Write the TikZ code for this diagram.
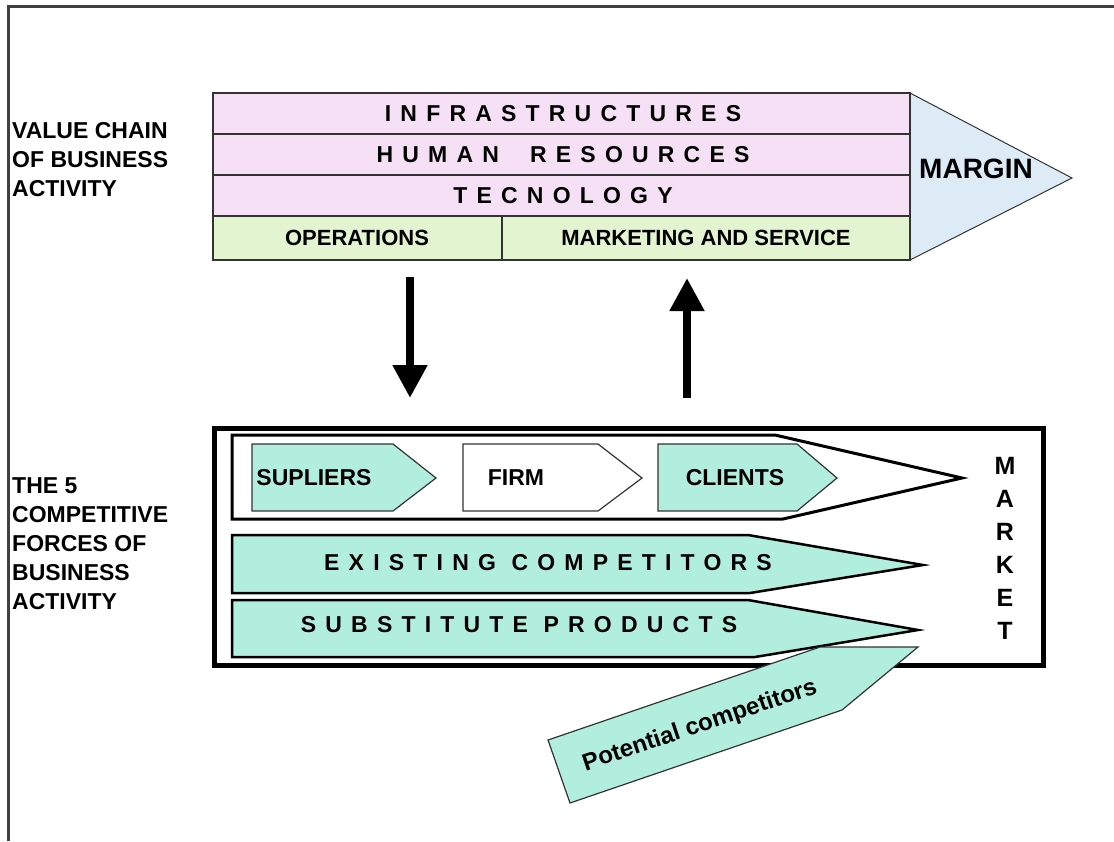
\documentclass[tikz,border=0pt]{standalone}
\usepackage{fontspec}
\setmainfont{Liberation Sans}
\newfontfamily\spacedfont[LetterSpace=40]{Liberation Sans}
\usetikzlibrary{arrows.meta}

\definecolor{chainpink}{RGB}{246,224,246}
\definecolor{chaingreen}{RGB}{227,245,208}
\definecolor{marginblue}{RGB}{221,235,247}
\definecolor{forceteal}{RGB}{178,238,222}

\newcommand\chainL{213}
\newcommand\chainR{910}
\newcommand\chainMid{502}
\newcommand\forceL{232}
\newcommand\rowH{41}

\tikzset{
  sidelbl/.style={font=\bfseries\fontsize{23}{29}\selectfont, align=left, anchor=north west, inner sep=0pt},
  rowtxt/.style={font=\spacedfont\bfseries\fontsize{23}{23}\selectfont, inner sep=0pt},
  celltxt/.style={font=\bfseries\fontsize{22}{22}\selectfont, inner sep=0pt},
  bigarrow/.style={line width=8pt, -{Triangle[length=33pt,width=33pt]}},
}

\begin{document}
\begin{tikzpicture}[x=1pt,y=-1pt]
    \useasboundingbox (0,0) rectangle (1114,841);
    \draw[line width=3pt, black!75] (1114,6) -- (8,6) -- (8,841);

    %% side labels
    \node[sidelbl] (chainlbl) at (12,122) {VALUE CHAIN\\OF BUSINESS\\ACTIVITY};
    \node[sidelbl] (forceslbl) at (12,477) {THE 5\\COMPETITIVE\\FORCES OF\\BUSINESS\\ACTIVITY};

    %% value chain
    \filldraw[fill=marginblue, draw=black!80, line width=1pt] (\chainR,93) -- (1072,178) -- (\chainR,260) -- cycle;
    \node[celltxt, font=\bfseries\fontsize{28}{28}\selectfont] (margin) at (976,169) {MARGIN};
    \foreach \Rnumber/\txt in {0/INFRASTRUCTURES, 1/HUMAN\ \ RESOURCES, 2/TECNOLOGY}{
      \filldraw[fill=chainpink, draw=black!80, line width=2pt] (\chainL,93+\rowH*\Rnumber) rectangle (\chainR,93+\rowH*\Rnumber+\rowH);
      \node[rowtxt] (row\Rnumber) at (563,93+\rowH*\Rnumber+\rowH/2) {\txt};
    }
    \filldraw[fill=chaingreen, draw=black!80, line width=2pt] (\chainL,216) rectangle (\chainMid,260);
    \filldraw[fill=chaingreen, draw=black!80, line width=2pt] (\chainMid,216) rectangle (\chainR,260);
    \node[celltxt] (operations) at (357,238) {OPERATIONS};
    \node[celltxt] (marketing) at (706,238) {MARKETING AND SERVICE};

    %% arrows between chain and market
    \coordinate (opsout) at (410,277);
    \coordinate (mktin) at (410,398);
    \coordinate (mktout) at (687,398);
    \coordinate (mrkin) at (687,278);
    \draw[bigarrow] (opsout) -- (mktin);
    \draw[bigarrow] (mktout) -- (mrkin);

    %% market
    \draw[line width=5pt] (214,428) rectangle (1043,665);
    \filldraw[fill=white, line width=3pt] (\forceL,435) -- (775,435) -- (962,478) -- (783,519) -- (\forceL,519) -- cycle;
    \foreach \l/\b/\t/\fc/\tx/\txt in {252/393/436/forceteal/314/SUPLIERS, 463/598/642/white/516/FIRM, 658/797/837/forceteal/735/CLIENTS}{
      \filldraw[fill=\fc, draw=black!80, line width=1.2pt] (\l,444) -- (\b,444) -- (\t,478) -- (\b,511) -- (\l,511) -- cycle;
      \node[celltxt, font=\bfseries\fontsize{23}{23}\selectfont] (\txt) at (\tx,478) {\txt};
    }
    \filldraw[fill=forceteal, line width=2.5pt] (\forceL,535) -- (748,535) -- (923,565) -- (750,593) -- (\forceL,593) -- cycle;
    \node[rowtxt] (existing) at (548,563) {EXISTING COMPETITORS};
    \filldraw[fill=forceteal, line width=2.5pt] (\forceL,600) -- (748,600) -- (918,630) -- (755,657) -- (\forceL,657) -- cycle;
    \node[rowtxt] (substitute) at (519,625) {SUBSTITUTE PRODUCTS};

    \foreach \ch [count=\Rnumber] in {M,A,R,K,E,T}{
      \node[celltxt, font=\bfseries\fontsize{25}{25}\selectfont] (market\Rnumber) at (1005,466+33*\Rnumber-33) {\ch};
    }

    %% potential competitors
    \filldraw[fill=forceteal, draw=black!80, line width=1.2pt] (570,803) -- (548,740) -- (820,647) -- (918,647) -- (842,710) -- cycle;
    \node[celltxt, font=\bfseries\fontsize{24}{24}\selectfont, rotate=18.6] (potential) at (700,726) {Potential competitors};

  \end{tikzpicture}
\end{document}
